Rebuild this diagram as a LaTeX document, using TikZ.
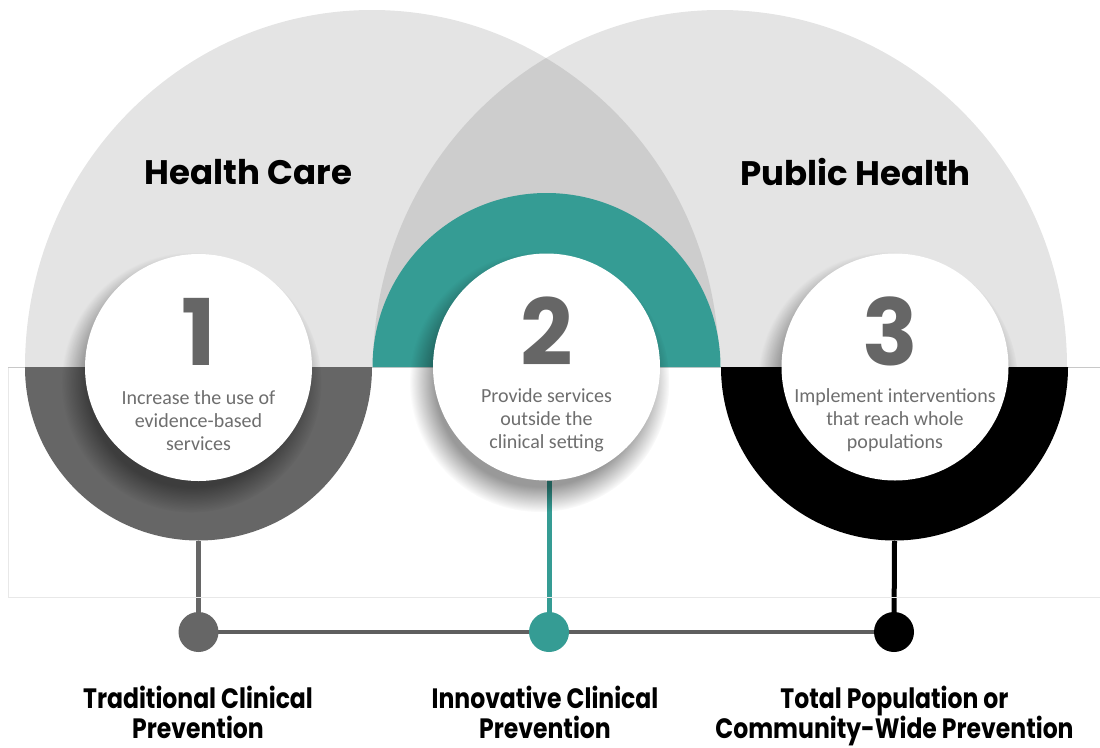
\documentclass[tikz,border=0pt]{standalone}
\usepackage{fontspec}
\usepackage{graphicx}
\usetikzlibrary{fadings}
\setmainfont{Carlito}
\newfontfamily\popfont{Poppins}
\definecolor{bigc}{HTML}{E4E4E4}
\definecolor{lensc}{HTML}{CDCDCD}
\definecolor{ringgray}{HTML}{666666}
\definecolor{tealc}{HTML}{359C94}
\definecolor{numgray}{HTML}{666666}
\definecolor{txtgray}{HTML}{6E6E6E}
\definecolor{framec}{HTML}{E8E8E8}
\definecolor{linec}{HTML}{C8C8C8}
\definecolor{barc}{HTML}{5F5F5F}
\newcommand{\squeezetxt}[1]{\scalebox{0.84}[1]{#1}}
\pgfdeclarelayer{bg}
\pgfsetlayers{bg,main}
\begin{document}
\begin{tikzpicture}[x=1pt,y=-1pt,
  whitec/.style={circle, fill=white, minimum size=227pt, inner sep=0pt},
  softshadow/.style={fill=black, fill opacity=0.4, path fading=circle with fuzzy edge 20 percent},
  numtxt/.style={font=\popfont\bfseries\fontsize{92}{92}\selectfont, text=numgray, inner sep=0pt, anchor=base},
  desc/.style={font=\fontsize{20}{23}\selectfont, text=txtgray, align=center, inner sep=0pt, anchor=base},
  titletxt/.style={font=\popfont\bfseries\fontsize{34}{40}\selectfont, inner sep=0pt, anchor=base},
  lbl/.style={font=\popfont\bfseries\fontsize{28}{30}\selectfont, inner sep=0pt, anchor=base, align=center},
  dot/.style={circle, minimum size=40pt, inner sep=0pt},
  stem/.style={line width=5pt}
]
\useasboundingbox (0,0) rectangle (1100,747);
% faint frame
\draw[framec, line width=1pt] (8,367) rectangle (1110,597);
\draw[linec, line width=0.8pt] (8,367) -- (1110,367);
% big half ellipses
\fill[bigc] (25,367) arc[start angle=180, end angle=360, x radius=347, y radius=357] -- cycle;
\fill[bigc] (373,367) arc[start angle=180, end angle=360, x radius=347, y radius=357] -- cycle;
\begin{scope}
  \clip (25,367) arc[start angle=180, end angle=360, x radius=347, y radius=357] -- cycle;
  \fill[lensc] (373,367) arc[start angle=180, end angle=360, x radius=347, y radius=357] -- cycle;
\end{scope}
% titles
\node[titletxt] (hc) at (248.5,184) {Health Care};
\node[titletxt] (ph) at (855.5,185) {Public Health};
% rings
\fill[ringgray] (25,367) arc[start angle=180, end angle=0, radius=173.5] -- cycle;
\fill[tealc] (372.5,367) arc[start angle=180, end angle=360, radius=174] -- cycle;
\fill[black] (721,367) arc[start angle=180, end angle=0, radius=173.5] -- cycle;
% soft shadows
\fill[softshadow] (191.5,382.5) circle (130);
\fill[softshadow] (539.5,382) circle (130);
\fill[softshadow] (888,382) circle (130);
% white circles
\node[whitec] (c1) at (198.5,367.5) {};
\node[whitec] (c2) at (546.5,367) {};
\node[whitec] (c3) at (895,367) {};
% numbers
\node[numtxt] (n1) at (198.5,365) {1};
\node[numtxt] (n2) at (546.5,365) {2};
\node[numtxt] (n3) at (890,365) {3};
% descriptions (base anchor = last line)
\node[desc] (t1) at (198.5,450) {Increase the use of\\evidence-based\\services};
\node[desc] (t2) at (546.5,448) {Provide services\\outside the\\clinical setting};
\node[desc] (t3) at (895,448) {Implement interventions\\that reach whole\\populations};
% stems and dots
\coordinate (r1b) at (198.5,541);
\coordinate (r3b) at (894.5,541);
\node[dot, fill=ringgray] (d1) at (198.5,632) {};
\node[dot, fill=tealc] (d2) at (549,632) {};
\node[dot, fill=black] (d3) at (894,632) {};
\begin{pgfonlayer}{bg}
\draw[stem, ringgray] (r1b) -- (d1.center);
\draw[stem, tealc] (d2.center |- c2.south) -- (d2.center);
\draw[stem, black] (r3b) -- (d3.center);
\draw[barc, line width=4pt] (d1.center) -- (d2.center);
\draw[barc, line width=4pt] (d2.center) -- (d3.center);
\end{pgfonlayer}
% bottom labels (base anchor = last line)
\node[lbl] (l1) at (198,738) {\squeezetxt{Traditional Clinical}\\\squeezetxt{Prevention}};
\node[lbl] (l2) at (545,738) {\squeezetxt{Innovative Clinical}\\\squeezetxt{Prevention}};
\node[lbl] (l3) at (894.5,738) {\squeezetxt{Total Population or}\\\squeezetxt{Community-Wide Prevention}};
\end{tikzpicture}
\end{document}
